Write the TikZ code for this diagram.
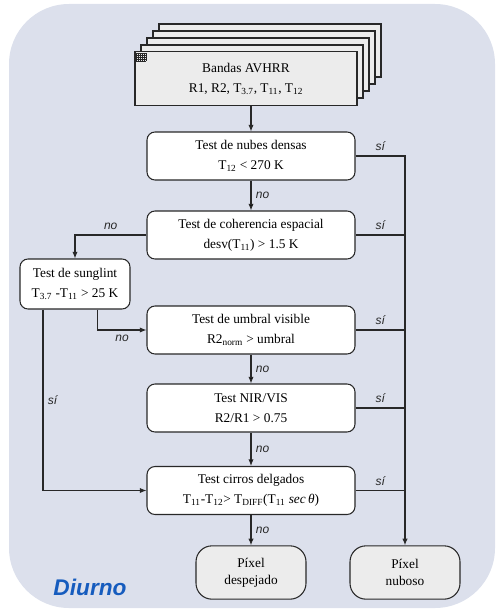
\documentclass[tikz,border=0pt]{standalone}
\usepackage{fontspec}
\setmainfont{Liberation Serif}
\setsansfont{Liberation Sans}
\usetikzlibrary{arrows.meta,shapes,positioning}
\definecolor{fondo}{RGB}{220,224,236}
\definecolor{gris}{RGB}{236,236,236}
\definecolor{linea}{RGB}{40,40,40}
\definecolor{azul}{RGB}{22,92,190}

\begin{document}
\begin{tikzpicture}[x=0.75pt,y=-0.75pt,
    >={Latex[length=5pt,width=4pt]},
    con/.style={draw=linea, line width=0.8pt},
    test/.style={draw=linea, fill=white, line width=0.8pt, rounded corners=6pt,
      minimum width=156pt, minimum height=36pt, align=center,
      font=\fontsize{10}{15}\selectfont},
    fin/.style={test, fill=gris, rounded corners=12pt, minimum width=82.5pt,
      minimum height=40pt, font=\fontsize{10}{13}\selectfont},
    lab/.style={font=\sffamily\itshape\fontsize{9}{9}\selectfont, text=linea}]
          \useasboundingbox (0,0) rectangle (496,616);
          \fill[fondo, rounded corners=45pt] (9,4) rectangle (495,608);
          % pila de bandas
          \foreach \i in {4,3,2,1}
            \draw[con, fill=gris] (135+6*\i,52-7*\i) rectangle (357+6*\i,105-7*\i);
          \node[draw=linea, fill=gris, line width=0.8pt, minimum width=166.5pt,
            minimum height=40pt, align=center, font=\fontsize{10}{15}\selectfont]
            (bandas) at (246,78.5) {Bandas AVHRR\\R1, R2, T\textsubscript{3.7}, T\textsubscript{11}, T\textsubscript{12}};
          \foreach \k in {0,2,...,10}
            \draw[linea, line width=0.4pt] (136+\k,53) -- (136+\k,61);
          \foreach \k in {0,2,...,8}
            \draw[linea, line width=0.4pt] (136,53+\k) -- (146,53+\k);
          % tests
          \node[test] (densas) at (251,156) {Test de nubes densas\\T\textsubscript{12} < 270 K};
          \node[test] (coher) at (251,235) {Test de coherencia espacial\\desv(T\textsubscript{11}) > 1.5 K};
          \node[test, minimum width=82.5pt, minimum height=37.5pt] (sung) at (75,284)
            {Test de sunglint\\T\textsubscript{3.7} -T\textsubscript{11} > 25 K};
          \node[test] (umbral) at (251,330) {Test de umbral visible\\R2\textsubscript{norm} > umbral};
          \node[test] (nir) at (251,408) {Test NIR/VIS\\R2/R1 > 0.75};
          \node[test] (cirros) at (251,490.5)
            {Test cirros delgados\\T\textsubscript{11}-T\textsubscript{12}> T\textsubscript{DIFF}(T\textsubscript{11} \textit{sec\,θ})};
          \node[fin] (desp) at (251,572.5) {Píxel\\despejado};
          \node[fin] (nub) at (405,572.5) {Píxel\\nuboso};
          \node[font=\sffamily\bfseries\itshape\fontsize{17}{17}\selectfont, text=azul]
            (diurno) at (90,587) {Diurno};
          % conexiones
          \draw[con,->] (densas.north |- bandas.south) -- (densas.north);
          \path[con,->] (densas) edge node[lab,right]{no} (coher);
          \path[con,->] (umbral) edge node[lab,right]{no} (nir);
          \path[con,->] (nir) edge node[lab,right]{no} (cirros);
          \path[con,->] (cirros) edge node[lab,right]{no} (desp);
          \draw[con,->] (densas.east) -| node[lab,above,pos=0.25]{sí} (nub.north);
          \draw[con] (coher.east) -- node[lab,above]{sí} (coher.east -| nub.north);
          \draw[con] (umbral.east) -- node[lab,above]{sí} (umbral.east -| nub.north);
          \draw[con] (nir.east) -- node[lab,above]{sí} (nir.east -| nub.north);
          \draw[con] (cirros.east) -- node[lab,above]{sí} (cirros.east -| nub.north);
          \draw[con,->] (coher.west) -| node[lab,above,pos=0.25]{no} (sung.north);
          \draw[con,->] ([xshift=17pt]sung.south) |- node[lab,below,pos=0.75]{no} (umbral.west);
          \draw[con,->] ([xshift=-24pt]sung.south) |- node[lab,right,pos=0.25]{sí} (cirros.west);
        \end{tikzpicture}
\end{document}
